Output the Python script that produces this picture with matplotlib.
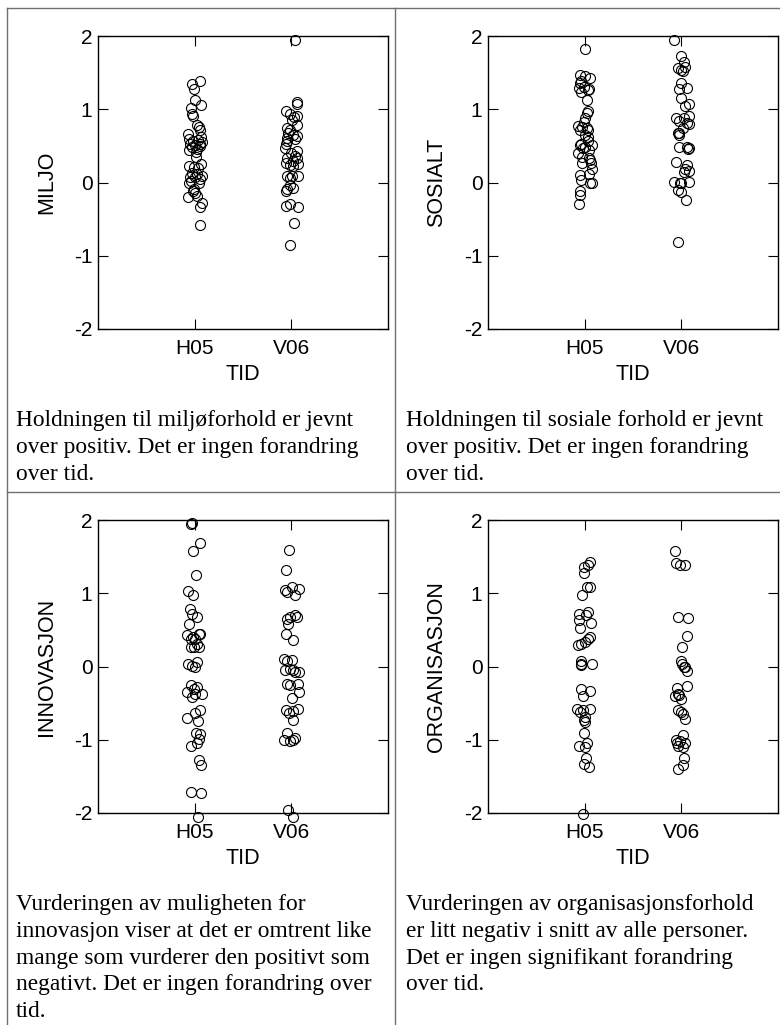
import numpy as np
import matplotlib.pyplot as plt
from matplotlib.lines import Line2D

plt.rcParams['font.family'] = ['Liberation Sans', 'DejaVu Sans']

tider = ['H05', 'V06']

# MILJO: (verdi, sideforskyvning)
miljo_h05 = [1.38, 1.34, 1.27, 1.13, 1.06, 1.02, 0.93, 0.91, 0.79, 0.76, 0.72, 0.66, 0.62, 0.60,
             0.58, 0.56, 0.55, 0.53, 0.52, 0.51, 0.50, 0.48, 0.46, 0.44, 0.42, 0.35, 0.25, 0.23,
             0.21, 0.20, 0.13, 0.11, 0.09, 0.08, 0.07, 0.05, 0.02, 0.00, 0.00, -0.09, -0.12,
             -0.14, -0.20, -0.19, -0.28, -0.34, -0.58]
miljo_h05_dx = [0.05, -0.03, -0.01, 0.00, 0.07, -0.04, -0.03, -0.02, 0.02, 0.04, 0.05, -0.07, 0.07, -0.06,
                0.03, -0.02, 0.08, 0.05, -0.05, 0.00, 0.06, -0.03, 0.02, -0.06, 0.01, 0.01, 0.07, -0.06,
                -0.01, 0.03, -0.03, 0.02, 0.08, -0.05, 0.00, 0.05, -0.04, -0.06, 0.04, -0.01, -0.02,
                0.00, -0.07, 0.02, 0.08, 0.06, 0.05]
miljo_v06 = [1.94, 1.10, 1.07, 0.98, 0.93, 0.90, 0.91, 0.86, 0.79, 0.74, 0.72, 0.68, 0.65, 0.63,
             0.59, 0.61, 0.56, 0.52, 0.47, 0.43, 0.40, 0.36, 0.34, 0.33, 0.30, 0.27, 0.24, 0.22,
             0.25, 0.09, 0.09, 0.09, 0.06, -0.03, -0.07, -0.09, -0.11, -0.29, -0.32, -0.33,
             -0.55, -0.86]
miljo_v06_dx = [0.04, 0.06, 0.06, -0.06, -0.01, 0.03, 0.06, 0.01, 0.06, -0.04, -0.01, -0.03, 0.02, 0.06,
                0.04, -0.04, -0.05, -0.06, -0.07, 0.06, 0.00, 0.04, -0.04, 0.06, 0.02, -0.06, -0.01, 0.02,
                0.07, -0.04, 0.01, 0.07, -0.01, -0.01, 0.02, -0.04, -0.06, -0.01, -0.06, 0.07,
                0.03, -0.01]

# SOSIALT
sosialt_h05 = [1.82, 1.47, 1.45, 1.42, 1.38, 1.36, 1.31, 1.29, 1.28, 1.26, 1.24, 1.13, 0.97, 0.95,
               0.88, 0.83, 0.77, 0.76, 0.75, 0.71, 0.72, 0.65, 0.62, 0.56, 0.53, 0.51, 0.49, 0.51,
               0.47, 0.44, 0.40, 0.35, 0.33, 0.31, 0.26, 0.26, 0.19, 0.12, 0.10, 0.03, 0.00, -0.01,
               -0.11, -0.17, -0.29]
sosialt_h05_dx = [0.00, -0.05, 0.00, 0.06, -0.04, -0.05, -0.01, -0.06, 0.04, 0.03, -0.04, 0.02, 0.03, 0.02,
                  0.00, -0.01, -0.07, -0.03, 0.02, -0.05, 0.03, 0.00, 0.03, 0.03, -0.04, -0.05, 0.00, 0.08,
                  -0.02, 0.04, -0.07, -0.03, 0.04, 0.06, -0.03, 0.07, 0.08, 0.04, -0.05, -0.04, 0.06, 0.08,
                  -0.05, -0.05, -0.06]
sosialt_v06 = [1.95, 1.73, 1.64, 1.58, 1.56, 1.54, 1.52, 1.36, 1.29, 1.27, 1.15, 1.07, 1.04, 0.91,
               0.88, 0.88, 0.84, 0.81, 0.80, 0.74, 0.68, 0.67, 0.65, 0.49, 0.49, 0.47, 0.46, 0.28,
               0.24, 0.19, 0.16, 0.15, 0.01, 0.00, 0.00, 0.01, -0.10, -0.13, -0.24, -0.81]
sosialt_v06_dx = [-0.08, 0.00, 0.03, 0.04, -0.03, 0.00, 0.02, 0.00, 0.06, -0.02, 0.00, 0.08, 0.04, 0.08,
                  -0.06, 0.03, -0.02, 0.06, 0.08, 0.02, -0.03, -0.02, -0.02, -0.02, 0.06, 0.08, 0.07, -0.06,
                  0.06, 0.04, 0.08, 0.03, -0.08, -0.01, 0.00, 0.08, -0.03, 0.00, 0.05, -0.03]

# INNOVASJON
innov_h05 = [1.95, 1.96, 1.69, 1.58, 1.25, 1.03, 0.97, 0.78, 0.72, 0.68, 0.58, 0.43, 0.44, 0.44,
             0.40, 0.38, 0.37, 0.31, 0.26, 0.26, 0.26, 0.03, 0.01, 0.06, -0.01, -0.25, -0.28, -0.31,
             -0.35, -0.37, -0.37, -0.42, -0.60, -0.64, -0.70, -0.74, -0.91, -0.92, -0.99, -1.04,
             -1.09, -1.28, -1.35, -1.72, -1.73, -2.05]
innov_h05_dx = [-0.04, -0.03, 0.06, -0.02, 0.01, -0.07, -0.02, -0.05, -0.03, 0.02, -0.06, -0.08, 0.04, 0.06,
                -0.02, 0.00, -0.04, 0.02, -0.04, -0.01, 0.04, -0.07, -0.03, 0.02, 0.00, -0.04, 0.02, -0.01,
                -0.08, 0.08, 0.00, -0.03, 0.05, 0.00, -0.08, 0.03, 0.01, 0.06, 0.04, 0.02,
                -0.04, 0.04, 0.07, -0.04, 0.07, 0.03]
innov_v06 = [1.59, 1.32, 1.04, 1.02, 1.09, 1.06, 0.98, 0.65, 0.58, 0.68, 0.70, 0.68, 0.44, 0.36,
             0.10, 0.08, 0.09, -0.03, -0.05, -0.05, -0.07, -0.08, -0.24, -0.25, -0.24, -0.35, -0.43,
             -0.60, -0.63, -0.61, -0.58, -0.73, -0.91, -1.01, -1.02, -1.01, -0.98, -1.96, -2.06]
innov_v06_dx = [-0.02, -0.06, -0.07, -0.05, 0.01, 0.08, 0.04, -0.04, -0.03, -0.01, 0.04, 0.06, -0.06, 0.02,
                -0.08, -0.04, 0.01, -0.01, 0.02, -0.07, 0.08, 0.04, -0.04, -0.01, 0.07, 0.08, 0.01,
                -0.06, -0.02, 0.02, 0.07, 0.02, -0.04, -0.08, -0.01, 0.02, 0.04, -0.03, 0.02]

# ORGANISASJON
org_h05 = [1.42, 1.39, 1.36, 1.28, 1.09, 1.08, 0.97, 0.75, 0.72, 0.70, 0.63, 0.59, 0.52, 0.40,
           0.37, 0.34, 0.31, 0.30, 0.08, 0.04, 0.02, 0.03, -0.31, -0.33, -0.40, -0.58, -0.60, -0.58,
           -0.62, -0.69, -0.73, -0.76, -0.91, -1.04, -1.08, -1.10, -1.25, -1.33, -1.37, -2.02]
org_h05_dx = [0.06, 0.03, -0.01, -0.01, 0.05, 0.02, -0.03, 0.03, -0.06, 0.01, -0.06, 0.07, -0.05, 0.05,
              0.03, 0.00, -0.04, -0.07, -0.04, -0.04, -0.04, 0.08, -0.04, 0.06, -0.02, -0.08, -0.02, 0.05,
              -0.05, 0.00, -0.01, 0.00, -0.01, 0.02, -0.06, 0.00, 0.01, -0.01, 0.04, -0.02]
org_v06 = [1.58, 1.41, 1.39, 1.38, 0.67, 0.66, 0.41, 0.27, 0.07, 0.03, 0.00, -0.01, -0.06, -0.26,
           -0.29, -0.38, -0.40, -0.39, -0.44, -0.60, -0.62, -0.65, -0.72, -0.94, -1.01, -1.02,
           -1.05, -1.04, -1.08, -1.10, -1.25, -1.34, -1.40]
org_v06_dx = [-0.07, -0.06, -0.01, 0.04, -0.03, 0.07, 0.06, 0.01, 0.00, 0.01, 0.03, 0.04, 0.06, 0.06,
              -0.05, -0.03, -0.07, -0.02, 0.00, -0.03, 0.00, 0.02, 0.04, 0.02, -0.06, -0.01,
              0.04, -0.04, -0.03, 0.02, 0.03, 0.02, -0.03]

ylabels = ['MILJO', 'SOSIALT', 'INNOVASJON', 'ORGANISASJON']
tekster = [
    'Holdningen til miljøforhold er jevnt\nover positiv. Det er ingen forandring\nover tid.',
    'Holdningen til sosiale forhold er jevnt\nover positiv. Det er ingen forandring\nover tid.',
    'Vurderingen av muligheten for\ninnovasjon viser at det er omtrent like\nmange som vurderer den positivt som\nnegativt. Det er ingen forandring over\ntid.',
    'Vurderingen av organisasjonsforhold\ner litt negativ i snitt av alle personer.\nDet er ingen signifikant forandring\nover tid.',
]
data = [
    (miljo_h05, miljo_h05_dx, miljo_v06, miljo_v06_dx),
    (sosialt_h05, sosialt_h05_dx, sosialt_v06, sosialt_v06_dx),
    (innov_h05, innov_h05_dx, innov_v06, innov_v06_dx),
    (org_h05, org_h05_dx, org_v06, org_v06_dx),
]

W, H = 780, 1025
fig = plt.figure(figsize=(7.8, 10.25), dpi=100)

# pixel-plassering for aksene (venstre, topp) og tekst
ax_pos = [(98, 36), (488, 36), (98, 520), (488, 520)]
txt_pos = [(16, 410), (406, 410), (16, 894), (406, 894)]

for i in range(4):
    left, top = ax_pos[i]
    ax = fig.add_axes([left / W, 1 - (top + 293) / H, 290 / W, 293 / H])
    h05, h05_dx, v06, v06_dx = data[i]
    ax.plot(1 + np.array(h05_dx), h05, 'o', mfc='none', mec='black', ms=7.2, mew=0.8, clip_on=False)
    ax.plot(2 + np.array(v06_dx), v06, 'o', mfc='none', mec='black', ms=7.2, mew=0.8, clip_on=False)
    ax.set_xlim(0, 3)
    ax.set_ylim(-2, 2)
    ax.set_xticks([1, 2])
    ax.set_xticklabels(tider)
    ax.set_yticks([-2, -1, 0, 1, 2])
    ax.set_yticklabels(['-2', '-1', '0', '1', '2'])
    ax.tick_params(direction='in', length=7, width=0.8, top=True, right=True, labelsize=15)
    ax.tick_params(axis='x', pad=7.5)
    ax.tick_params(axis='y', pad=4)
    for s in ax.spines.values():
        s.set_linewidth(1.0)
    ax.set_xlabel('TID', fontsize=15.5)
    ax.set_ylabel(ylabels[i], fontsize=15.5)
    ax.xaxis.set_label_coords(0.5, -0.118)
    ax.yaxis.set_label_coords(-0.14, 0.5)

    tx, ty = txt_pos[i]
    fig.text(tx / W, 1 - ty / H, tekster[i], family=['Liberation Serif', 'DejaVu Serif'],
             fontsize=16.8, va='top', ha='left', linespacing=1.36)

# tabell-linjer
grid = '#707070'
fig.add_artist(Line2D([7 / W, 7 / W], [0, 1 - 8 / H], color=grid, lw=1))
fig.add_artist(Line2D([395 / W, 395 / W], [0, 1 - 8 / H], color=grid, lw=1))
fig.add_artist(Line2D([7 / W, 1], [1 - 8 / H, 1 - 8 / H], color=grid, lw=1))
fig.add_artist(Line2D([7 / W, 1], [1 - 492 / H, 1 - 492 / H], color=grid, lw=1))

plt.savefig('out.png', dpi=100)
